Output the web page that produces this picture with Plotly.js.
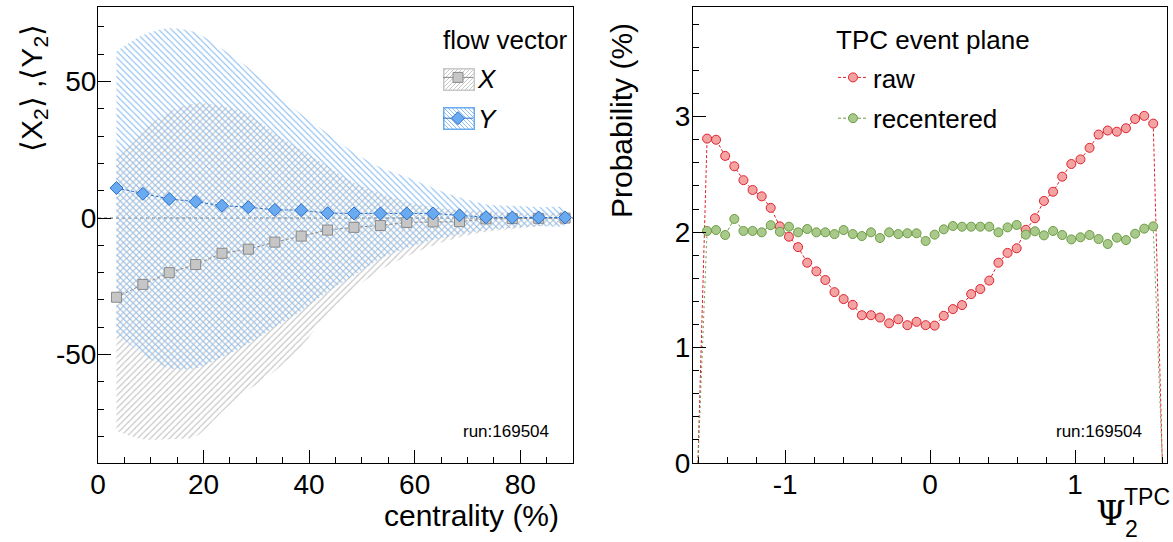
<!DOCTYPE html>
<html><head><meta charset="utf-8">
<script src="https://cdn.plot.ly/plotly-3.0.1.min.js"></script>
<style>html,body{margin:0;padding:0;background:#fff}#plot{width:1173px;height:542px}</style>
</head><body><div id="plot"></div>
<script>
// ---- left panel: flow vector vs centrality ----
const centrality = [3.5, 8.5, 13.5, 18.5, 23.5, 28.5, 33.5, 38.5, 43.5, 48.5, 53.5, 58.5, 63.5, 68.5, 73.5, 78.5, 83.5, 88.5];
const meanX = [-29, -24.3, -20, -17, -12.9, -11.4, -8.8, -6.6, -4.4, -3.4, -2.7, -1.6, -1.4, -1.3, -0.3, -0.2, -0.1, 0];
const meanY = [11, 8.9, 7.0, 6.0, 4.5, 4.0, 3.0, 2.9, 1.8, 1.7, 1.7, 1.7, 1.7, 1.0, 0.3, 0.2, 0.2, 0.2];
const bandXUpper = [23, 32, 39, 42, 41, 38, 31, 25, 19, 13, 9, 6, 4, 3, 2.5, 2, 1.5, 1.5];
const bandXLower = [-78, -81, -81, -80, -71, -63, -56, -47, -35, -26, -19, -14, -10, -7, -5, -4, -3, -2];
const bandYUpper = [61, 67, 69.5, 68, 62, 55, 46, 38, 31, 24, 18.5, 15, 11, 7.5, 5, 4.5, 4, 3.5];
const bandYLower = [-42, -50, -55, -55, -51, -46, -40, -34, -27, -21, -15, -11, -8, -6, -4.5, -3.5, -3, -2.5];
const leftXTicks = [0, 20, 40, 60, 80];
const leftXTickText = ["0", "20", "40", "60", "80"];
const leftYTicks = [-50, 0, 50];
const leftYTickText = ["-50", "0", "50"];

// ---- right panel: TPC event plane distribution ----
const psi = [-1.539, -1.477, -1.414, -1.351, -1.288, -1.225, -1.162, -1.100, -1.037, -0.974,
             -0.911, -0.848, -0.785, -0.723, -0.660, -0.597, -0.534, -0.471, -0.408, -0.346,
             -0.283, -0.220, -0.157, -0.094, -0.031, 0.031, 0.094, 0.157, 0.220, 0.283,
             0.346, 0.408, 0.471, 0.534, 0.597, 0.660, 0.723, 0.785, 0.848, 0.911,
             0.974, 1.037, 1.100, 1.162, 1.225, 1.288, 1.351, 1.414, 1.477, 1.539];
const psiUnderflow = -1.602, psiOverflow = 1.602;
const underflowValue = 0, overflowValue = 0;
const rawProb = [2.81, 2.80, 2.66, 2.57, 2.45, 2.365, 2.31, 2.21, 2.05, 1.96,
                 1.87, 1.735, 1.66, 1.585, 1.48, 1.42, 1.37, 1.28, 1.28, 1.26,
                 1.21, 1.245, 1.194, 1.223, 1.194, 1.19, 1.275, 1.333, 1.368, 1.463,
                 1.507, 1.58, 1.735, 1.82, 1.86, 2.02, 2.12, 2.27, 2.35, 2.48,
                 2.59, 2.63, 2.73, 2.845, 2.88, 2.87, 2.90, 2.98, 3.007, 2.94];
const recProb = [2.01, 2.018, 1.975, 2.114, 2.01, 2.01, 1.998, 2.06, 2.003, 2.047,
                 1.998, 2.027, 1.998, 1.998, 1.983, 2.018, 1.983, 1.966, 1.998, 1.949,
                 1.998, 1.983, 1.99, 1.99, 1.923, 1.978, 2.024, 2.053, 2.047, 2.047,
                 2.047, 2.047, 1.998, 2.041, 2.062, 1.978, 2.007, 1.972, 2.01, 1.975,
                 1.937, 1.955, 1.975, 1.94, 1.897, 1.952, 1.931, 1.986, 2.03, 2.05];
const rightXTicks = [-1, 0, 1];
const rightXTickText = ["-1", "0", "1"];
const rightYTicks = [0, 1, 2, 3];
const rightYTickText = ["0", "1", "2", "3"];

const FONT = "Liberation Sans, Arial, Helvetica, sans-serif";
const grayFill = "#c6c6c6", grayLine = "#8a8a8a";
const blueFill = "#6aaaf0", blueLine = "#2a6fc8", blueHatch = "#85baf0", grayHatch = "#c2c2c2";
const redFill = "#f4a3a3", redLine = "#e0222e";
const greenFill = "#a9c98b", greenLine = "#6b9c43";

function band(x, up, lo) {
  return { x: x.concat(x.slice().reverse()), y: up.concat(lo.slice().reverse()) };
}
const bX = band(centrality, bandXUpper, bandXLower);
const bY = band(centrality, bandYUpper, bandYLower);

const traces = [
  { x: bX.x, y: bX.y, xaxis: "x", yaxis: "y", mode: "lines", fill: "toself",
    line: { width: 0, shape: "spline", smoothing: 0.8 }, fillcolor: "rgba(0,0,0,0)",
    fillpattern: { shape: "/", fgcolor: grayHatch, bgcolor: "rgba(0,0,0,0)", size: 4.5, solidity: 0.25 },
    showlegend: false, hoverinfo: "skip" },
  { x: bY.x, y: bY.y, xaxis: "x", yaxis: "y", mode: "lines", fill: "toself",
    line: { width: 0, shape: "spline", smoothing: 0.8 }, fillcolor: "rgba(0,0,0,0)",
    fillpattern: { shape: "\\", fgcolor: blueHatch, bgcolor: "rgba(0,0,0,0)", size: 4.5, solidity: 0.25 },
    showlegend: false, hoverinfo: "skip" },
  { x: centrality, y: meanX, xaxis: "x", yaxis: "y", mode: "lines+markers", showlegend: false,
    line: { color: grayLine, width: 1, dash: "3px,2px" },
    marker: { symbol: "square", size: 10, color: grayFill, line: { color: grayLine, width: 1 } } },
  { x: centrality, y: meanY, xaxis: "x", yaxis: "y", mode: "lines+markers", showlegend: false,
    line: { color: blueLine, width: 1, dash: "3px,2px" },
    marker: { symbol: "diamond", size: 10, color: blueFill, line: { color: blueLine, width: 1 } } },
  // legend entries (no data points of their own)
  { x: [null], y: [null], xaxis: "x", yaxis: "y", name: "<i>X</i>", legend: "legend", legendgroup: "gx",
    mode: "lines+markers", line: { color: grayLine, width: 1 },
    marker: { symbol: "square", size: 10, color: grayFill, line: { color: grayLine, width: 1 } } },
  { x: [null], y: [null], xaxis: "x", yaxis: "y", name: "<i>Y</i>", legend: "legend", legendgroup: "gy",
    mode: "lines+markers", line: { color: blueLine, width: 1 },
    marker: { symbol: "diamond", size: 10, color: blueFill, line: { color: blueLine, width: 1 } } },
  // right panel
  { x: [psiUnderflow, psi[0], null, psi[psi.length - 1], psiOverflow],
    y: [underflowValue, rawProb[0], null, rawProb[rawProb.length - 1], overflowValue],
    xaxis: "x2", yaxis: "y2", mode: "lines", showlegend: false, hoverinfo: "skip",
    line: { color: redLine, width: 1, dash: "3px,2px" } },
  { x: [psiUnderflow, psi[0], null, psi[psi.length - 1], psiOverflow],
    y: [underflowValue, recProb[0], null, recProb[recProb.length - 1], overflowValue],
    xaxis: "x2", yaxis: "y2", mode: "lines", showlegend: false, hoverinfo: "skip",
    line: { color: greenLine, width: 1, dash: "2px,3px" } },
  { x: psi, y: rawProb, xaxis: "x2", yaxis: "y2", name: "raw", legend: "legend2", legendgroup: "gr",
    mode: "lines+markers", line: { color: redLine, width: 1, dash: "3px,2px" },
    marker: { symbol: "circle", size: 9, color: redFill, line: { color: redLine, width: 1 } } },
  { x: psi, y: recProb, xaxis: "x2", yaxis: "y2", name: "recentered", legend: "legend2", legendgroup: "gc",
    mode: "lines+markers", line: { color: greenLine, width: 1, dash: "3px,2px" },
    marker: { symbol: "circle", size: 9, color: greenFill, line: { color: greenLine, width: 1 } } }
];

const W = 1173, H = 542;
const px = v => v / W, py = v => 1 - v / H;

const axisCommon = {
  showline: true, linecolor: "#000", linewidth: 1, mirror: true,
  ticks: "inside", ticklen: 13, tickwidth: 1, tickcolor: "#000",
  showgrid: false, zeroline: false, tickmode: "array",
  tickfont: { family: FONT, size: 28, color: "#000" }
};

function hatchBox(stroke, border, backslash) {
  const d = backslash ? "M0,0 L4,4 M-1,3 L1,5 M3,-1 L5,1" : "M0,4 L4,0 M-1,1 L1,-1 M3,5 L5,3";
  const svg = "<svg xmlns='http://www.w3.org/2000/svg' width='32' height='23' viewBox='0 0 32 23'>" +
    "<defs><pattern id='p' width='4' height='4' patternUnits='userSpaceOnUse'>" +
    "<path d='" + d + "' stroke='" + stroke + "' stroke-width='0.9' fill='none'/></pattern></defs>" +
    "<rect x='0.75' y='0.75' width='30.5' height='21.5' fill='url(#p)' stroke='" + border + "' stroke-width='1.5'/></svg>";
  return "data:image/svg+xml;charset=utf-8," + encodeURIComponent(svg);
}

const layout = {
  width: W, height: H, margin: { l: 0, r: 0, t: 0, b: 0 },
  paper_bgcolor: "#fff", plot_bgcolor: "#fff",
  font: { family: FONT, color: "#000" },
  xaxis: Object.assign({}, axisCommon, { domain: [px(98), px(573)], range: [0, 90],
    tickvals: leftXTicks, ticktext: leftXTickText, anchor: "y", ticklabelstandoff: -4,
    minor: { ticks: "inside", ticklen: 6, dtick: 5, tickcolor: "#000" } }),
  yaxis: Object.assign({}, axisCommon, { domain: [py(463), py(7)], range: [-89.7, 77.3],
    tickvals: leftYTicks, ticktext: leftYTickText, anchor: "x", ticklabelstandoff: -5,
    minor: { ticks: "inside", ticklen: 6, dtick: 10, tickcolor: "#000" } }),
  xaxis2: Object.assign({}, axisCommon, { domain: [px(693), px(1167)], range: [-1.636, 1.634],
    tickvals: rightXTicks, ticktext: rightXTickText, anchor: "y2", ticklabelstandoff: -4,
    minor: { ticks: "inside", ticklen: 6, dtick: 0.2, tick0: 0, tickcolor: "#000" } }),
  yaxis2: Object.assign({}, axisCommon, { domain: [py(463), py(7)], range: [0, 3.95],
    tickvals: rightYTicks, ticktext: rightYTickText, anchor: "x2", ticklabelstandoff: -4,
    minor: { ticks: "inside", ticklen: 6, dtick: 0.2, tick0: 0, tickcolor: "#000" } }),
  legend: { x: px(438), y: py(54), xanchor: "left", yanchor: "top", bgcolor: "rgba(0,0,0,0)",
    font: { family: FONT, size: 26 }, itemwidth: 30, traceorder: "grouped", tracegroupgap: 4 },
  legend2: { x: px(833), y: py(54), xanchor: "left", yanchor: "top", bgcolor: "rgba(0,0,0,0)",
    font: { family: FONT, size: 26 }, itemwidth: 30, traceorder: "grouped", tracegroupgap: 4 },
  images: [
    { source: hatchBox(grayHatch, "#c8c8c8", false), xref: "paper", yref: "paper",
      x: px(443), y: py(68), sizex: 32 / W, sizey: 23 / H, xanchor: "left", yanchor: "top",
      sizing: "stretch", layer: "above" },
    { source: hatchBox(blueHatch, "#6aaaf0", true), xref: "paper", yref: "paper",
      x: px(443), y: py(107), sizex: 32 / W, sizey: 23 / H, xanchor: "left", yanchor: "top",
      sizing: "stretch", layer: "above" }
  ],
  shapes: [
    { type: "line", xref: "x domain", yref: "y", x0: 0, x1: 1, y0: 0, y1: 0, layer: "below",
      line: { color: "#555", width: 1, dash: "dot" } }
  ],
  annotations: [
    { text: "flow vector", xref: "paper", yref: "paper", x: px(441), y: py(40),
      xanchor: "left", yanchor: "middle", showarrow: false, font: { family: FONT, size: 26 } },
    { text: "TPC event plane", xref: "paper", yref: "paper", x: px(834), y: py(40),
      xanchor: "left", yanchor: "middle", showarrow: false, font: { family: FONT, size: 26 } },
    { text: "centrality (%)", xref: "paper", yref: "paper", x: px(561), y: py(515),
      xanchor: "right", yanchor: "middle", showarrow: false, font: { family: FONT, size: 30 } },
    { text: "⟨X<sub>2</sub>⟩ ,⟨Y<sub>2</sub>⟩", xref: "paper", yref: "paper", x: px(33), y: py(88),
      xanchor: "center", yanchor: "middle", textangle: -90, showarrow: false, font: { family: FONT, size: 30 } },
    { text: "Probability (%)", xref: "paper", yref: "paper", x: px(622), y: py(121),
      xanchor: "center", yanchor: "middle", textangle: -90, showarrow: false, font: { family: FONT, size: 30 } },
    { text: "Ψ", xref: "paper", yref: "paper", x: px(1128), y: py(513),
      xanchor: "right", yanchor: "middle", showarrow: false, font: { family: "DejaVu Serif, serif", size: 34 } },
    { text: "TPC", xref: "paper", yref: "paper", x: px(1122), y: py(497),
      xanchor: "left", yanchor: "middle", showarrow: false, font: { family: FONT, size: 23 } },
    { text: "2", xref: "paper", yref: "paper", x: px(1123), y: py(529),
      xanchor: "left", yanchor: "middle", showarrow: false, font: { family: FONT, size: 23 } },
    { text: "run:169504", xref: "paper", yref: "paper", x: px(551), y: py(431),
      xanchor: "right", yanchor: "middle", showarrow: false, font: { family: FONT, size: 17 } },
    { text: "run:169504", xref: "paper", yref: "paper", x: px(1144), y: py(431),
      xanchor: "right", yanchor: "middle", showarrow: false, font: { family: FONT, size: 17 } }
  ]
};

Plotly.newPlot("plot", traces, layout, { staticPlot: true, displayModeBar: false });
</script></body></html>
